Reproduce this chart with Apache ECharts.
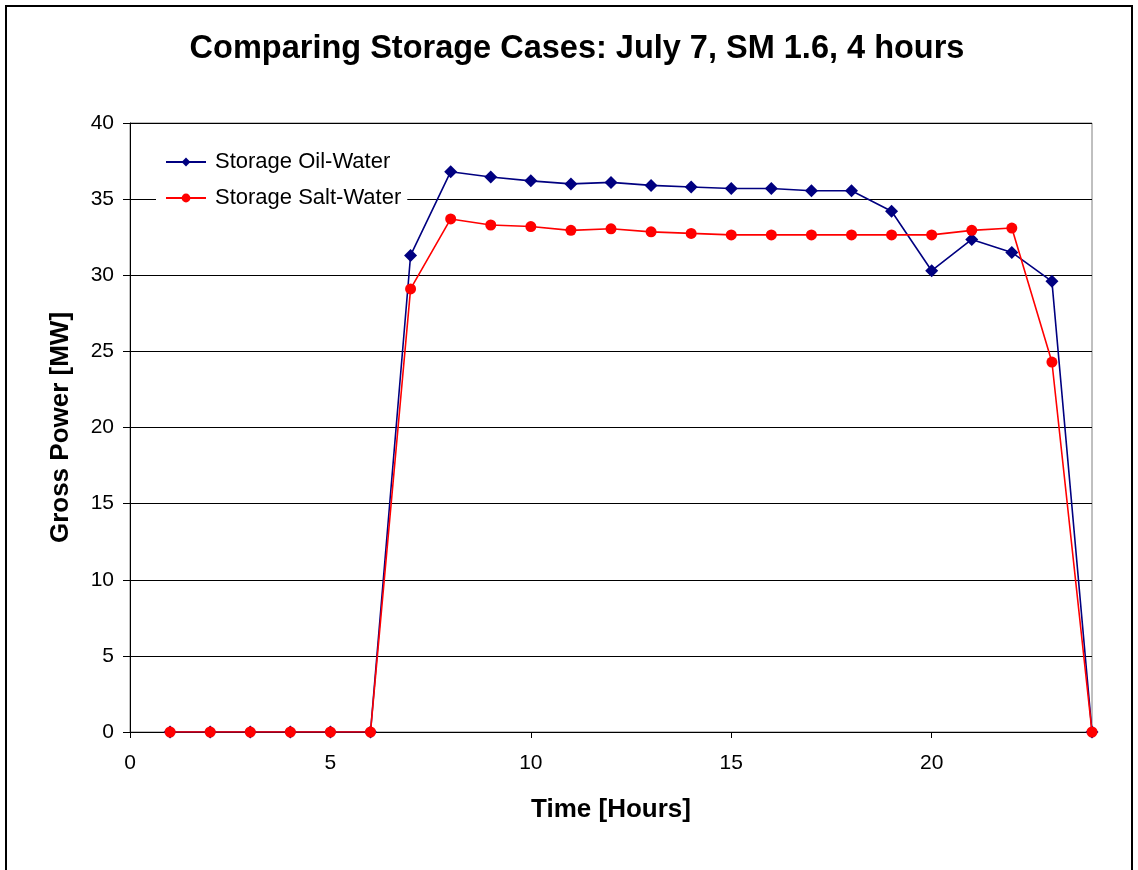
<!DOCTYPE html>
<html>
<head>
<meta charset="utf-8">
<script src="https://cdn.jsdelivr.net/npm/echarts@6/dist/echarts.min.js"></script>
<style>
html,body{margin:0;padding:0;background:#fff;}
#chart{width:1138px;height:870px;}
</style>
</head>
<body>
<div id="chart"></div>
<script>
const hours = [1,2,3,4,5,6,7,8,9,10,11,12,13,14,15,16,17,18,19,20,21,22,23,24];
const oilWater = [0,0,0,0,0,0,31.3,36.8,36.45,36.2,36.0,36.1,35.9,35.8,35.7,35.7,35.55,35.55,34.2,30.3,32.35,31.5,29.6,0];
const saltWater = [0,0,0,0,0,0,29.1,33.7,33.3,33.2,32.95,33.05,32.85,32.75,32.65,32.65,32.65,32.65,32.65,32.65,32.95,33.1,24.3,0];
const seriesNames = ['Storage Oil-Water','Storage Salt-Water'];
const titleText = 'Comparing Storage Cases: July 7, SM 1.6, 4 hours';
const xName = 'Time [Hours]';
const yName = 'Gross Power [MW]';

const chart = echarts.init(document.getElementById('chart'));
const font = 'Liberation Sans, Arial, sans-serif';
chart.setOption({
  animation:false,
  backgroundColor:'#fff',
  graphic:[{type:'rect',shape:{x:6,y:6,width:1126,height:900},style:{fill:'none',stroke:'#000',lineWidth:2},z:-1}],
  title:{text:titleText,left:572,textAlign:'center',top:28,textStyle:{fontFamily:font,fontSize:32.5,fontWeight:'bold',color:'#000'}},
  grid:{left:130,right:46,top:123,bottom:138,show:true,borderColor:'#808080',borderWidth:1,backgroundColor:'#fff'},
  legend:{orient:'vertical',left:156,top:148,padding:[3,6,3,9],itemGap:14,itemWidth:40,itemHeight:11,
    backgroundColor:'#fff',textStyle:{fontFamily:font,fontSize:22,color:'#000',padding:[0,0,0,4]},data:seriesNames},
  xAxis:{type:'value',min:0,max:24,interval:5,name:xName,nameLocation:'middle',nameGap:65,
    nameTextStyle:{fontFamily:font,fontSize:26,fontWeight:'bold',color:'#000'},
    axisLine:{onZero:false,lineStyle:{color:'#000',width:1}},
    axisTick:{show:true,length:6,lineStyle:{color:'#000'}},
    axisLabel:{fontFamily:font,fontSize:21,color:'#000',margin:21,showMaxLabel:false},
    splitLine:{show:false}},
  yAxis:{type:'value',min:0,max:40,interval:5,name:yName,nameLocation:'middle',nameGap:56,
    nameTextStyle:{fontFamily:font,fontSize:26,fontWeight:'bold',color:'#000'},
    axisLine:{show:true,lineStyle:{color:'#000',width:1}},
    axisTick:{show:true,length:7,lineStyle:{color:'#000'}},
    axisLabel:{fontFamily:font,fontSize:21,color:'#000',margin:16},
    splitLine:{show:true,lineStyle:{color:'#000',width:1}}},
  series:[
    {name:seriesNames[0],type:'line',data:hours.map((h,i)=>[h,oilWater[i]]),symbol:'diamond',symbolSize:13,
      itemStyle:{color:'#000080'},lineStyle:{color:'#000080',width:1.6},z:3},
    {name:seriesNames[1],type:'line',data:hours.map((h,i)=>[h,saltWater[i]]),symbol:'circle',symbolSize:11,
      itemStyle:{color:'#ff0000'},lineStyle:{color:'#ff0000',width:1.6},z:4}
  ]
});
</script>
</body>
</html>
